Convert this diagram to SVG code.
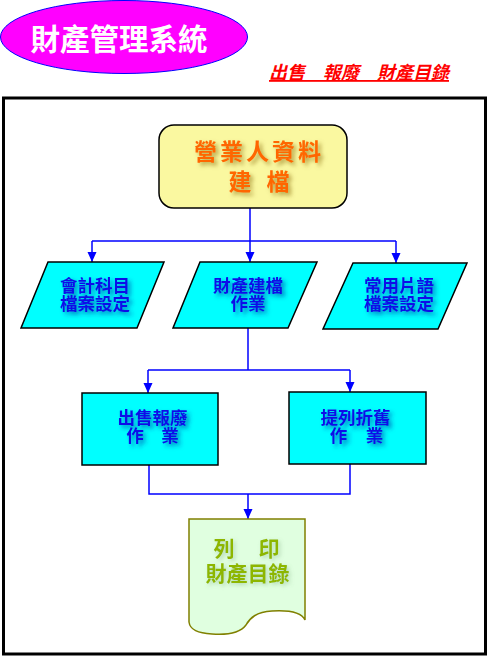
<svg xmlns="http://www.w3.org/2000/svg" width="489" height="657" viewBox="0 0 489 657">
  <defs>
    <style>
      .cjk { font-family: "Noto Sans CJK TC", "Noto Sans CJK SC", sans-serif; font-weight: bold; text-anchor: middle; }
      .conn { fill: none; stroke: #0000FF; stroke-width: 1.5; }
      .para { fill: #00FFFF; stroke: #000; stroke-width: 1.5; }
      .blue { fill: #1010E8; font-size: 17.5px; filter: url(#shBlue); }
      .orange { fill: #FF6600; font-size: 23px; filter: url(#shOlive); }
      .green { fill: #8DB600; font-size: 21px; filter: url(#shGreen); }
    </style>
    <filter id="shBlue" x="-20%" y="-40%" width="150%" height="200%">
      <feGaussianBlur in="SourceAlpha" stdDeviation="2.2" result="b"/>
      <feOffset in="b" dx="3" dy="3" result="o"/>
      <feFlood flood-color="#0030A0" flood-opacity="0.6"/>
      <feComposite in2="o" operator="in" result="s"/>
      <feMerge><feMergeNode in="s"/><feMergeNode in="SourceGraphic"/></feMerge>
    </filter>
    <filter id="shOlive" x="-20%" y="-40%" width="150%" height="200%">
      <feGaussianBlur in="SourceAlpha" stdDeviation="2.2" result="b"/>
      <feOffset in="b" dx="3" dy="3" result="o"/>
      <feFlood flood-color="#806000" flood-opacity="0.55"/>
      <feComposite in2="o" operator="in" result="s"/>
      <feMerge><feMergeNode in="s"/><feMergeNode in="SourceGraphic"/></feMerge>
    </filter>
    <filter id="shGreen" x="-20%" y="-40%" width="150%" height="200%">
      <feGaussianBlur in="SourceAlpha" stdDeviation="2" result="b"/>
      <feOffset in="b" dx="2" dy="2" result="o"/>
      <feFlood flood-color="#70A070" flood-opacity="0.4"/>
      <feComposite in2="o" operator="in" result="s"/>
      <feMerge><feMergeNode in="s"/><feMergeNode in="SourceGraphic"/></feMerge>
    </filter>
    <marker id="arr" markerWidth="10" markerHeight="10" viewBox="0 0 10 10" refX="10" refY="5" orient="auto" markerUnits="userSpaceOnUse">
      <path d="M0,0.5 L10,5 L0,9.5 Z" fill="#0000FF"/>
    </marker>
  </defs>

  <rect x="0" y="0" width="489" height="657" fill="#FFFFFF"/>

  <!-- title -->
  <g id="title">
    <ellipse cx="124" cy="37" rx="123.5" ry="36.5" fill="#FF00FF" stroke="#0000FF" stroke-width="1"/>
    <text class="cjk" x="119" y="50" fill="#FFFFFF" font-size="29.5">財產管理系統</text>
  </g>
  <g id="subtitle">
    <text x="269" y="79" font-family="Noto Sans CJK TC, Noto Sans CJK SC, sans-serif" font-weight="bold" font-style="italic" font-size="18" fill="#FF0000" text-decoration="underline">出售　報廢　財產目錄</text>
  </g>

  <!-- frame -->
  <rect x="3.5" y="98" width="482" height="556" fill="none" stroke="#000" stroke-width="3"/>

  <!-- connectors -->
  <g id="connectors">
    <path class="conn" d="M250,208 V241"/>
    <path class="conn" d="M92,241 H396"/>
    <path class="conn" d="M92,241 V262" marker-end="url(#arr)"/>
    <path class="conn" d="M250,241 V262" marker-end="url(#arr)"/>
    <path class="conn" d="M396,241 V263" marker-end="url(#arr)"/>
    <path class="conn" d="M248,328 V370"/>
    <path class="conn" d="M148,370 H350"/>
    <path class="conn" d="M148,370 V393" marker-end="url(#arr)"/>
    <path class="conn" d="M350,370 V392" marker-end="url(#arr)"/>
    <path class="conn" d="M149,465 V494 H350 V464"/>
    <path class="conn" d="M248,494 V519" marker-end="url(#arr)"/>
  </g>

  <!-- top node -->
  <g id="n-start">
    <rect x="159" y="125" width="188" height="83" rx="15" ry="15" fill="#FAF8A0" stroke="#000" stroke-width="1.5"/>
    <text class="cjk orange"><tspan x="259" y="160" letter-spacing="3">營業人資料</tspan><tspan x="240" y="190">建</tspan><tspan x="278" y="190">檔</tspan></text>
  </g>

  <g id="n-account">
    <polygon class="para" points="48,262 164,262 137,328 21,328"/>
    <text class="cjk blue"><tspan x="95" y="292">會計科目</tspan><tspan x="95" y="310">檔案設定</tspan></text>
  </g>

  <g id="n-asset">
    <polygon class="para" points="200,262 317,262 288,328 173,328"/>
    <text class="cjk blue"><tspan x="248" y="292">財產建檔</tspan><tspan x="248" y="310">作業</tspan></text>
  </g>

  <g id="n-phrase">
    <polygon class="para" points="353,263 467,263 438,329 323,329"/>
    <text class="cjk blue"><tspan x="399" y="292">常用片語</tspan><tspan x="399" y="310">檔案設定</tspan></text>
  </g>

  <g id="n-sell">
    <rect x="82" y="393" width="136" height="72" fill="#00FFFF" stroke="#000" stroke-width="1.5"/>
    <text class="cjk blue"><tspan x="152.5" y="424">出售報廢</tspan><tspan x="135" y="442">作</tspan><tspan x="170" y="442">業</tspan></text>
  </g>

  <g id="n-depr">
    <rect x="289" y="392" width="137" height="72" fill="#00FFFF" stroke="#000" stroke-width="1.5"/>
    <text class="cjk blue"><tspan x="355.5" y="424">提列折舊</tspan><tspan x="338.5" y="442">作</tspan><tspan x="374.5" y="442">業</tspan></text>
  </g>

  <g id="n-print">
    <path d="M189,519 H305 V620 C302,613 290,610 272,611 C256,612 250,618 246,625 C240,633 226,635 212,634 C198,633 190,630 189,622 Z" fill="#E0FFE0" stroke="#808000" stroke-width="1.5"/>
    <text class="cjk green"><tspan x="224" y="556">列</tspan><tspan x="269" y="556">印</tspan><tspan x="247.5" y="581">財產目錄</tspan></text>
  </g>
</svg>
